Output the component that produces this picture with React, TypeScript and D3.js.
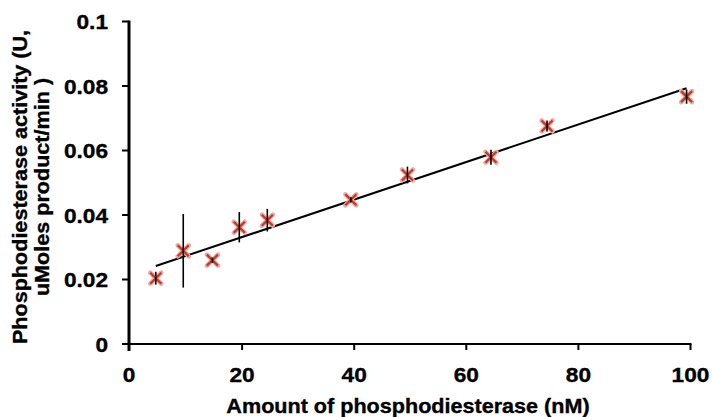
import React from "react";
import * as d3 from "d3";

const xValues = [4.6, 9.5, 14.7, 19.5, 24.5, 39.4, 49.5, 64.4, 74.4, 99.3];
const yValues = [0.0204, 0.0289, 0.026, 0.0362, 0.0384, 0.0447, 0.0524, 0.0579, 0.0676, 0.0767];
const yErrors = [0.002, 0.0114, 0.0008, 0.0047, 0.0035, 0.0008, 0.0026, 0.0023, 0.0017, 0.0022];
const trendX = [4.6, 99.3];
const trendY = [0.0242, 0.0793];
const xTicks = [0, 20, 40, 60, 80, 100];
const yTicks = [0, 0.02, 0.04, 0.06, 0.08, 0.1];
const yTickLabels = ["0", "0.02", "0.04", "0.06", "0.08", "0.1"];
const xTitle = "Amount of phosphodiesterase (nM)";
const yTitleLines = ["Phosphodiesterase activity (U,", "uMoles product/min )"];

const W = 712;
const H = 417;
const FONT = "'Liberation Sans', Arial, sans-serif";
const SX = 1.08;

function T(props: { x: number; y: number; anchor: string; size: number; rot?: number; children: any }) {
  const { x, y, anchor, size, rot, children } = props;
  const tr = rot
    ? `translate(${x},${y}) rotate(${rot}) scale(${SX},1)`
    : `translate(${x},${y}) scale(${SX},1)`;
  return (
    <text
      transform={tr}
      textAnchor={anchor}
      fontSize={size}
      fontWeight="bold"
      fill="#000"
      stroke="#000"
      strokeWidth={0.35}
    >
      {children}
    </text>
  );
}

export default function App() {
  const x = d3.scaleLinear().domain([0, 100]).range([130, 690.5]);
  const y = d3.scaleLinear().domain([0, 0.1]).range([344, 21.5]);
  const line = d3
    .line<number>()
    .x((_, i) => x(trendX[i]))
    .y((d) => y(d));
  const m = 5.5;
  const x0 = x(0) - 1;
  return (
    <svg
      width={W}
      height={H}
      style={{ position: "absolute", left: 0, top: 0, background: "#fff" }}
      fontFamily={FONT}
    >
      <rect width={W} height={H} fill="#fff" />
      <path d={line(trendY) || ""} fill="none" stroke="#000" strokeWidth={2} />
      {xValues.map((xv, i) => {
        const cx = x(xv);
        const cy = y(yValues[i]);
        const p = `M${cx - m},${cy - m}L${cx + m},${cy + m}M${cx - m},${cy + m}L${cx + m},${cy - m}`;
        return (
          <g key={"m" + i}>
            <path d={p} stroke="#eda8a0" strokeWidth={4.5} strokeLinecap="round" fill="none" />
            <path d={p} stroke="#c0392b" strokeWidth={2.2} fill="none" />
          </g>
        );
      })}
      {xValues.map((xv, i) => (
        <line
          key={"e" + i}
          x1={x(xv)}
          x2={x(xv)}
          y1={y(yValues[i] - yErrors[i])}
          y2={y(yValues[i] + yErrors[i])}
          stroke="#000"
          strokeWidth={1.6}
        />
      ))}
      <line x1={x0 - 7} x2={x(100) + 1} y1={y(0)} y2={y(0)} stroke="#000" strokeWidth={2.2} />
      {xTicks.map((t) => (
        <g key={"xt" + t}>
          {t !== 0 && (
            <line x1={x(t)} x2={x(t)} y1={y(0)} y2={y(0) + 6} stroke="#000" strokeWidth={2} />
          )}
          <T x={t === 0 ? x0 : x(t)} y={382} anchor="middle" size={21}>
            {t}
          </T>
        </g>
      ))}
      <line x1={x0} x2={x0} y1={y(0.1) - 1} y2={y(0) + 7} stroke="#000" strokeWidth={3} />
      {yTicks.map((t, i) => (
        <g key={"yt" + i}>
          <line x1={x0 - 7} x2={x0} y1={y(t)} y2={y(t)} stroke="#000" strokeWidth={2} />
          <T x={108} y={y(t) + 7.5} anchor="end" size={21}>
            {yTickLabels[i]}
          </T>
        </g>
      ))}
      <T x={408} y={413} anchor="middle" size={20}>
        {xTitle}
      </T>
      {yTitleLines.map((s, i) => (
        <T key={"yl" + i} x={27 + i * 22} y={187} anchor="middle" size={20} rot={-90}>
          {s}
        </T>
      ))}
    </svg>
  );
}
